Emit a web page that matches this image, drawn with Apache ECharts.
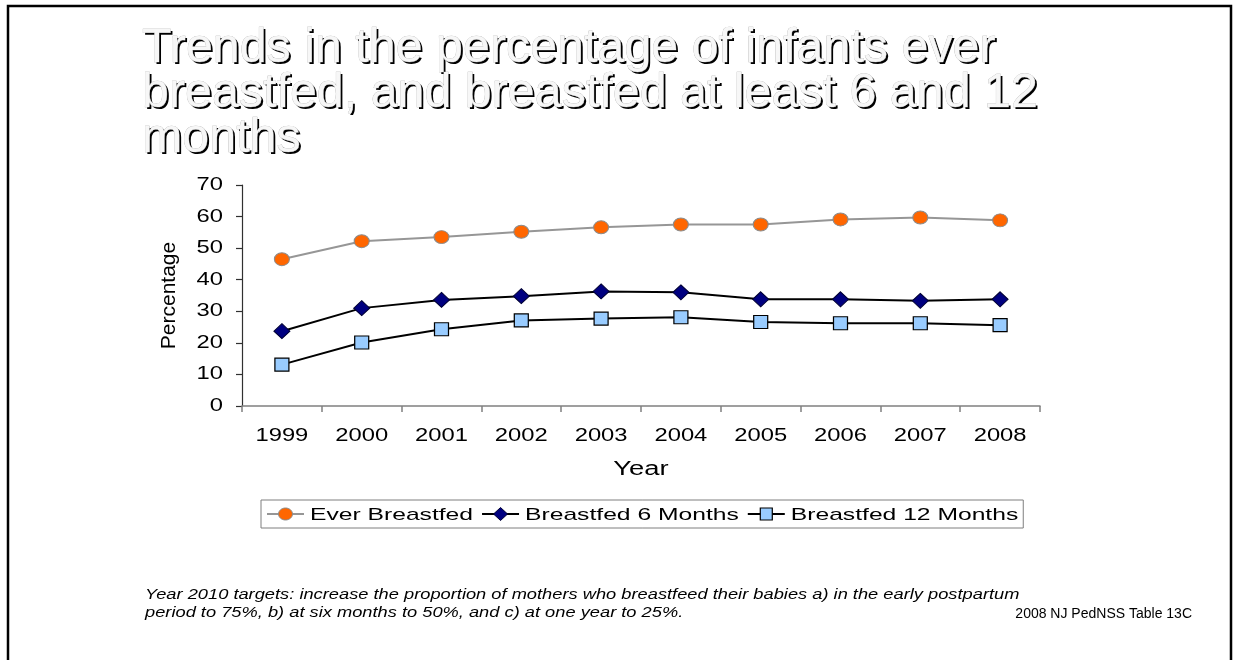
<!DOCTYPE html>
<html>
<head>
<meta charset="utf-8">
<script src="https://cdn.jsdelivr.net/npm/echarts@6/dist/echarts.min.js"></script>
<style>
  html, body { margin: 0; padding: 0; background: #fff; }
  #chart { width: 1233px; height: 660px; }
</style>
</head>
<body>
<div id="chart"></div>
<script>
// Survey years on the category axis
const years = ['1999', '2000', '2001', '2002', '2003', '2004', '2005', '2006', '2007', '2008'];

// Percentage of infants per year
const everBreastfed = [46.5, 52.2, 53.5, 55.2, 56.6, 57.5, 57.5, 59.1, 59.7, 58.8];
const breastfed6Months = [23.7, 31.0, 33.6, 34.8, 36.3, 36.0, 33.8, 33.8, 33.3, 33.8];
const breastfed12Months = [13.1, 20.1, 24.3, 27.1, 27.7, 28.1, 26.6, 26.2, 26.2, 25.6];

// Y axis scale and its tick labels
const yMin = 0, yMax = 70, yStep = 10;
const yTickLabels = ['0', '10', '20', '30', '40', '50', '60', '70'];

const seriesNames = ['Ever Breastfed', 'Breastfed 6 Months', 'Breastfed 12 Months'];

const titleText = 'Trends in the percentage of infants ever\nbreastfed, and breastfed at least 6 and 12\nmonths';
const noteLine1 = 'Year 2010 targets: increase the proportion of mothers who breastfeed their babies a) in the early postpartum';
const noteLine2 = 'period to 75%, b) at six months to 50%, and c) at one year to 25%.';
const sourceText = '2008 NJ PedNSS Table 13C';

const FAMILY = '"Liberation Sans", Arial, sans-serif';
const GRID = { left: 242, right: 193, top: 185, bottom: 254 };
const WIDE = 1.32;       // horizontal stretch of the chart's lettering
const LEGEND_WIDE = 1.45;

const seriesStyles = [
  { symbol: 'circle', size: [15, 13], line: '#969696', fill: '#FF6600', border: '#8c8c8c', bw: 1 },
  { symbol: 'diamond', size: [16, 15], line: '#000000', fill: '#000080', border: '#000033', bw: 1 },
  { symbol: 'rect', size: [14, 13], line: '#000000', fill: '#99CCFF', border: '#000000', bw: 1.2 }
];
const seriesData = [everBreastfed, breastfed6Months, breastfed12Months];

const chart = echarts.init(document.getElementById('chart'), null, { renderer: 'canvas' });

chart.setOption({
  backgroundColor: '#ffffff',
  animation: false,
  grid: Object.assign({ containLabel: false }, GRID),
  xAxis: {
    type: 'category',
    data: years,
    boundaryGap: true,
    axisLine: { show: true, lineStyle: { color: '#808080', width: 1.5 } },
    axisTick: { show: true, alignWithLabel: false, length: 6, lineStyle: { color: '#808080', width: 1.5 } },
    axisLabel: { show: false },
    splitLine: { show: false }
  },
  yAxis: {
    type: 'value',
    min: yMin,
    max: yMax,
    interval: yStep,
    name: 'Percentage',
    nameLocation: 'middle',
    nameGap: 62,
    nameTextStyle: { fontFamily: FAMILY, fontSize: 21, color: '#000' },
    axisLine: { show: true, lineStyle: { color: '#303030', width: 1.2 } },
    axisTick: { show: true, length: 6, lineStyle: { color: '#303030', width: 1.2 } },
    axisLabel: { show: false },
    splitLine: { show: false }
  },
  series: seriesData.map((data, i) => ({
    name: seriesNames[i],
    type: 'line',
    data: data,
    symbol: seriesStyles[i].symbol,
    symbolSize: seriesStyles[i].size,
    lineStyle: { color: seriesStyles[i].line, width: 2 },
    itemStyle: { color: seriesStyles[i].fill, borderColor: seriesStyles[i].border, borderWidth: seriesStyles[i].bw }
  }))
});

// Text that is laid out from the axis scales after the grid is built
const measure = (() => {
  const ctx = document.createElement('canvas').getContext('2d');
  return (text, font) => { ctx.font = font; return ctx.measureText(text).width; };
})();

const graphics = [];

// Frame around the slide
graphics.push({
  type: 'polyline',
  silent: true,
  shape: { points: [[8, 672], [8, 6], [1231, 6], [1231, 672]] },
  style: { stroke: '#000', lineWidth: 2.5, fill: null }
});

// Title with a dark drop shadow under light lettering
const titleFont = '48.4px ' + FAMILY;
graphics.push({
  type: 'text', x: 144, y: 28, silent: true,
  style: { text: titleText, font: titleFont, lineHeight: 45, fill: '#000000', verticalAlign: 'top' }
});
graphics.push({
  type: 'text', x: 142, y: 26, silent: true,
  style: { text: titleText, font: titleFont, lineHeight: 45, fill: '#f7f7f7', stroke: '#a8a8a8', lineWidth: 0.5, verticalAlign: 'top' }
});

// Category labels
const axisBottom = chart.convertToPixel({ yAxisIndex: 0 }, yMin);
years.forEach(y => {
  graphics.push({
    type: 'text', x: chart.convertToPixel({ xAxisIndex: 0 }, y), y: axisBottom + 30, scaleX: WIDE, silent: true,
    style: { text: y, font: '18px ' + FAMILY, fill: '#000', align: 'center', verticalAlign: 'middle' }
  });
});

// Value labels
yTickLabels.forEach(t => {
  graphics.push({
    type: 'text', x: GRID.left - 19, y: chart.convertToPixel({ yAxisIndex: 0 }, Number(t)), scaleX: WIDE, silent: true,
    style: { text: t, font: '18px ' + FAMILY, fill: '#000', align: 'right', verticalAlign: 'middle' }
  });
});

// X axis title
const gridCenterX = GRID.left + (1233 - GRID.left - GRID.right) / 2;
graphics.push({
  type: 'text', x: gridCenterX, y: axisBottom + 63, scaleX: 1.37, silent: true,
  style: { text: 'Year', font: '20px ' + FAMILY, fill: '#000', align: 'center', verticalAlign: 'middle' }
});

// Legend: line + symbol swatch followed by the series name
const legendTop = 500, legendH = 28, legendLeft = 261, iconW = 37, iconGap = 6, itemGap = 9;
const legendFont = '17px ' + FAMILY;
const legendMid = legendTop + legendH / 2;
let cursor = legendLeft + 6;
const legendItems = [];
seriesNames.forEach((name, i) => {
  const st = seriesStyles[i];
  const cx = cursor + iconW / 2;
  legendItems.push({
    type: 'line', silent: true,
    shape: { x1: cursor, y1: legendMid, x2: cursor + iconW, y2: legendMid },
    style: { stroke: st.line, lineWidth: 2 }
  });
  const symStyle = { fill: st.fill, stroke: st.border, lineWidth: st.bw };
  if (st.symbol === 'circle') {
    legendItems.push({ type: 'ellipse', silent: true, shape: { cx: cx, cy: legendMid, rx: 7, ry: 6 }, style: symStyle });
  } else if (st.symbol === 'diamond') {
    legendItems.push({ type: 'polygon', silent: true,
      shape: { points: [[cx, legendMid - 6.5], [cx + 7, legendMid], [cx, legendMid + 6.5], [cx - 7, legendMid]] }, style: symStyle });
  } else {
    legendItems.push({ type: 'rect', silent: true, shape: { x: cx - 6, y: legendMid - 6, width: 12, height: 12 }, style: symStyle });
  }
  const tx = cursor + iconW + iconGap;
  legendItems.push({
    type: 'text', x: tx, y: legendMid + 1, scaleX: LEGEND_WIDE, silent: true,
    style: { text: name, font: legendFont, fill: '#000', align: 'left', verticalAlign: 'middle' }
  });
  cursor = tx + measure(name, legendFont) * LEGEND_WIDE + itemGap;
});
const legendRight = cursor - itemGap + 5;
graphics.push({
  type: 'rect', silent: true,
  shape: { x: legendLeft, y: legendTop, width: legendRight - legendLeft, height: legendH },
  style: { fill: '#fff', stroke: '#7f7f7f', lineWidth: 1 }
});
graphics.push(...legendItems);

// Footnotes
graphics.push({
  type: 'text', x: 145, y: 586, scaleX: 1.305, silent: true,
  style: { text: noteLine1 + '\n' + noteLine2, font: 'italic 14px ' + FAMILY, lineHeight: 18, fill: '#000', align: 'left', verticalAlign: 'top' }
});
graphics.push({
  type: 'text', x: 1192, y: 614, silent: true,
  style: { text: sourceText, font: '14px ' + FAMILY, fill: '#000', align: 'right', verticalAlign: 'middle' }
});

chart.setOption({ graphic: graphics });
</script>
</body>
</html>
